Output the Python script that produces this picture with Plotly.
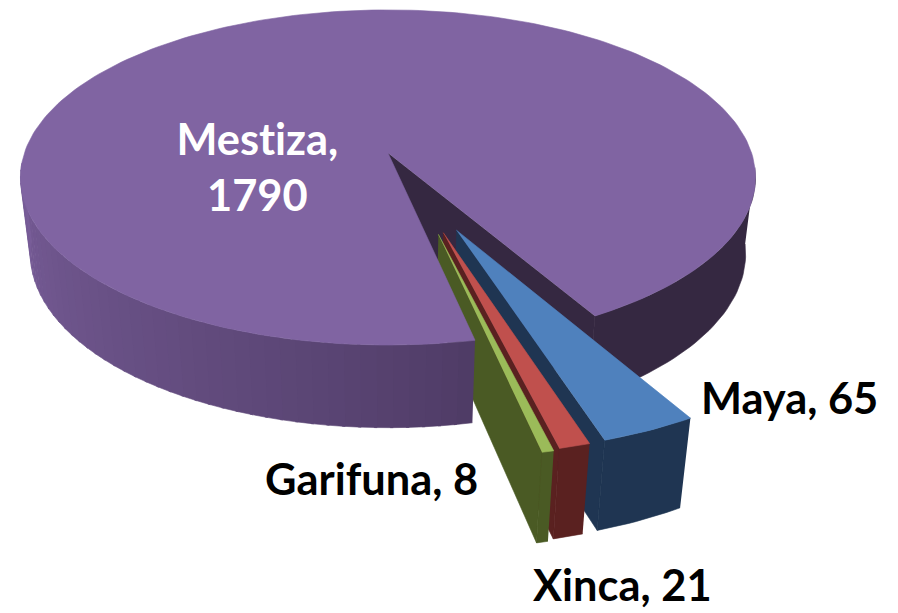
import numpy as np
import plotly.graph_objects as go

# data
categories = ["Mestiza", "Maya", "Xinca", "Garifuna"]
values = [1790, 65, 21, 8]
top_colors = ["#8064A2", "#4F81BD", "#C0504D", "#9BBB59"]
wall_colors = ["#352841", "#1F3552", "#5A2120", "#4A5A24"]
label_texts = ["Mestiza,<br>1790", "Maya, 65", "Xinca, 21", "Garifuna, 8"]
label_x = [257, 789, 622, 371]
label_y = [166, 397, 584, 478]
label_colors = ["white", "black", "black", "black"]

# projection
CX, CY, A, B, K, C, M = 388, 153, 363.6, 164, 0.146, 78, 0.027
START = 60.2          # screen angle where the Maya slice starts (deg)
PULL = [0, 0.474, 0.475, 0.48]
TILT = [0, 1.8, -2.0, -3.0]
SLICE_DEPTH = 1.06


def project(X, Y, Z=0.0):
    d = 1 - K * Y + M * Z
    return CX + A * X / d, CY + (B * Y + C * Z) / d


shares = np.array(values) / sum(values) * 360
spans = {}
a = START
for i in [1, 2, 3, 0]:
    spans[i] = (a, a + shares[i])
    a += shares[i]

fig = go.Figure()


def poly(xs, ys, color):
    fig.add_trace(go.Scatter(x=list(xs), y=list(ys), mode="lines", fill="toself",
                             fillcolor=color, line=dict(color=color, width=0.6),
                             hoverinfo="skip", showlegend=False))


def arc(t0, t1, n, ox=0.0, oy=0.0, z=0.0):
    t = np.radians(np.linspace(t0, t1, n))
    return project(ox + np.cos(t), oy + np.sin(t), z)


def outer_wall(t0, t1, n, color, ox=0.0, oy=0.0, depth=1.0):
    x0, y0 = arc(t0, t1, n, ox, oy, 0)
    x1, y1 = arc(t1, t0, n, ox, oy, depth)
    poly(np.r_[x0, x1], np.r_[y0, y1], color)


def radial_wall(t, color, ox=0.0, oy=0.0, depth=1.0):
    r = np.radians(t)
    px, py = ox + np.cos(r), oy + np.sin(r)
    a0, b0 = project(ox, oy, 0)
    a1, b1 = project(px, py, 0)
    a2, b2 = project(px, py, depth)
    a3, b3 = project(ox, oy, depth)
    poly([a0, a1, a2, a3], [b0, b1, b2, b3], color)


def top_face(t0, t1, n, color, ox=0.0, oy=0.0):
    x, y = arc(t0, t1, n, ox, oy, 0)
    a0, b0 = project(ox, oy, 0)
    poly(np.r_[a0, x], np.r_[b0, y], color)


# Mestiza back parts (behind the exploded slices)
m0, m1 = spans[0]
outer_wall(360 + 5, m1, 40, wall_colors[0])
radial_wall(m1 - 360, wall_colors[0])

# exploded slices
for i in [1, 2, 3]:
    t0, t1 = spans[i]
    mid = np.radians((t0 + t1) / 2 + TILT[i])
    ox, oy = PULL[i] * np.cos(mid), PULL[i] * np.sin(mid)
    radial_wall(t1, wall_colors[i], ox, oy, SLICE_DEPTH)
    outer_wall(t0, t1, 12, wall_colors[i], ox, oy, SLICE_DEPTH)
    top_face(t0, t1, 12, top_colors[i], ox, oy)

# Mestiza front parts (they hide the Garifuna side wall)
gradient_low = np.array([0x4F, 0x3C, 0x66])
gradient_high = np.array([0x78, 0x5D, 0x98])
edges = np.linspace(m0, 176, 45)
for j in range(len(edges) - 1):
    f = (j / (len(edges) - 2)) ** 0.8
    c = gradient_low + (gradient_high - gradient_low) * f
    outer_wall(edges[j], edges[j + 1] + 0.4, 3, "rgb(%d,%d,%d)" % tuple(c))
top_face(m0, m1, 240, top_colors[0])

for txt, lx, ly, col in zip(label_texts, label_x, label_y, label_colors):
    fig.add_annotation(x=lx, y=ly, text=txt, showarrow=False, xanchor="center", yanchor="middle",
                       font=dict(family="Lato", size=43.4, color=col, weight="bold"))

fig.update_layout(
    width=898, height=613, margin=dict(l=0, r=0, t=0, b=0),
    paper_bgcolor="white", plot_bgcolor="white", showlegend=False,
    xaxis=dict(range=[0, 898], visible=False, fixedrange=True),
    yaxis=dict(range=[613, 0], visible=False, fixedrange=True),
)
fig.write_html("out.html", config={"displayModeBar": False},
               post_script="document.body.style.margin='0';document.documentElement.style.overflow='hidden';"
                           "document.head.insertAdjacentHTML('beforeend','<style>svg text{font-variant-ligatures:none;"
                           "font-feature-settings:\"liga\" 0,\"clig\" 0,\"dlig\" 0,\"calt\" 0}</style>');")
